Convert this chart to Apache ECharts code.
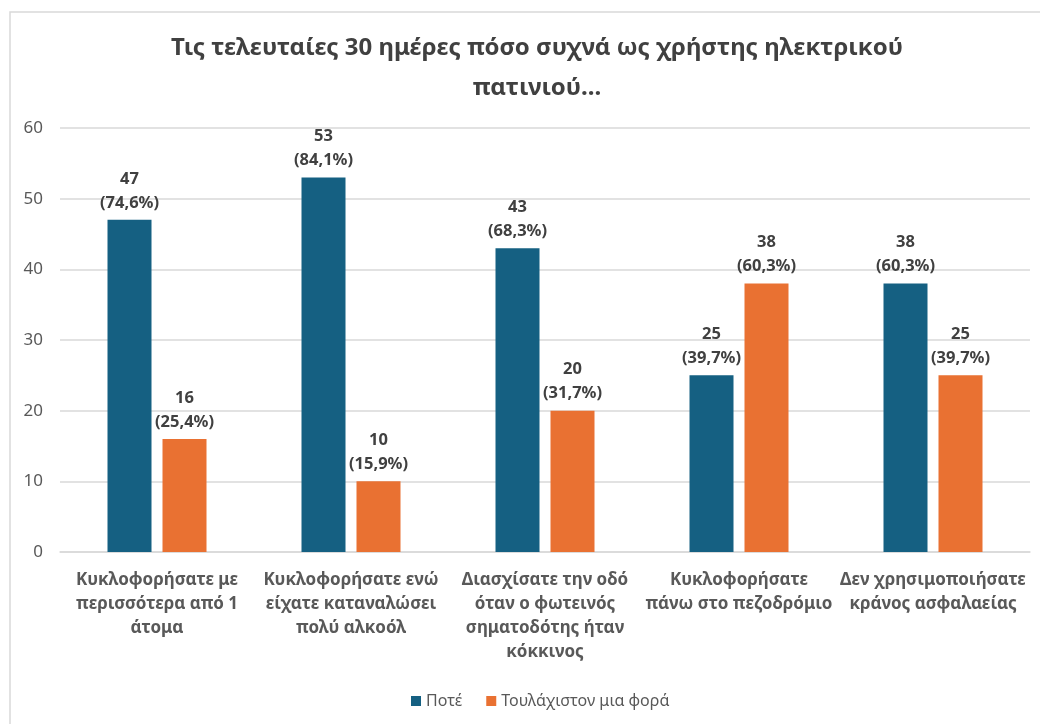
<!DOCTYPE html>
<html>
<head>
<meta charset="utf-8">
<script src="https://cdn.jsdelivr.net/npm/echarts@6/dist/echarts.min.js"></script>
<style>
  html, body { margin: 0; padding: 0; background: #fff; }
  #main { width: 1040px; height: 724px; }
</style>
</head>
<body>
<div id="main"></div>
<script>
// data
var categories = [
  'Κυκλοφορήσατε με\nπερισσότερα από 1\nάτομα',
  'Κυκλοφορήσατε ενώ\nείχατε καταναλώσει\nπολύ αλκοόλ',
  'Διασχίσατε την οδό\nόταν ο φωτεινός\nσηματοδότης ήταν\nκόκκινος',
  'Κυκλοφορήσατε\nπάνω στο πεζοδρόμιο',
  'Δεν χρησιμοποιήσατε\nκράνος ασφαλαείας'
];
var seriesNames = ['Ποτέ', 'Τουλάχιστον μια φορά'];
var never = [47, 53, 43, 25, 38];
var atLeastOnce = [16, 10, 20, 38, 25];
var neverPct = ['74,6%', '84,1%', '68,3%', '39,7%', '60,3%'];
var oncePct = ['25,4%', '15,9%', '31,7%', '60,3%', '39,7%'];
var yTicks = [0, 10, 20, 30, 40, 50, 60];

var chartDom = document.getElementById('main');
var myChart = echarts.init(chartDom);
var option;

function labelOption(pcts) {
  return {
    show: true,
    position: 'top',
    distance: 5,
    color: '#404040',
    fontSize: 16.5,
    fontWeight: 'bold',
    lineHeight: 24,
    fontFamily: 'Noto Sans',
    formatter: function (p) {
      return p.value + '\n(' + pcts[p.dataIndex] + ')';
    }
  };
}

option = {
  animation: false,
  title: {
    text: 'Τις τελευταίες 30 ημέρες πόσο συχνά ως χρήστης ηλεκτρικού\nπατινιού...',
    left: 532,
    top: 23,
    textAlign: 'center',
    textStyle: {
      color: '#404040',
      fontSize: 24,
      fontWeight: 'bold',
      lineHeight: 40,
      fontFamily: 'Noto Sans'
    }
  },
  graphic: [{
    type: 'rect',
    shape: { x: 10, y: 12, width: 1040, height: 730 },
    style: { fill: null, stroke: '#d9d9d9', lineWidth: 1.5 },
    silent: true
  }],
  legend: {
    data: seriesNames,
    bottom: 10,
    left: 406,
    itemWidth: 10,
    itemHeight: 10,
    itemGap: 24,
    icon: 'rect',
    textStyle: { color: '#595959', fontSize: 16, fontFamily: 'Noto Sans' }
  },
  grid: {
    left: 60,
    right: 10,
    top: 128,
    bottom: 172
  },
  xAxis: {
    type: 'category',
    data: categories,
    axisTick: { show: false },
    axisLine: { lineStyle: { color: '#d9d9d9', width: 1.5 } },
    axisLabel: {
      color: '#595959',
      fontSize: 17,
      fontWeight: 'bold',
      lineHeight: 24,
      margin: 16,
      interval: 0,
      fontFamily: 'Noto Sans'
    }
  },
  yAxis: {
    type: 'value',
    min: yTicks[0],
    max: yTicks[yTicks.length - 1],
    interval: 10,
    axisLine: { show: false },
    axisTick: { show: false },
    axisLabel: { color: '#595959', fontSize: 17, margin: 17, fontFamily: 'Noto Sans' },
    splitLine: { lineStyle: { color: '#d9d9d9', width: 1.5 } }
  },
  series: [
    {
      name: seriesNames[0],
      type: 'bar',
      data: never,
      barWidth: 44,
      barGap: '25%',
      itemStyle: { color: '#156082' },
      label: labelOption(neverPct)
    },
    {
      name: seriesNames[1],
      type: 'bar',
      data: atLeastOnce,
      barWidth: 44,
      itemStyle: { color: '#E97132' },
      label: labelOption(oncePct)
    }
  ]
};
option && myChart.setOption(option);
</script>
</body>
</html>
